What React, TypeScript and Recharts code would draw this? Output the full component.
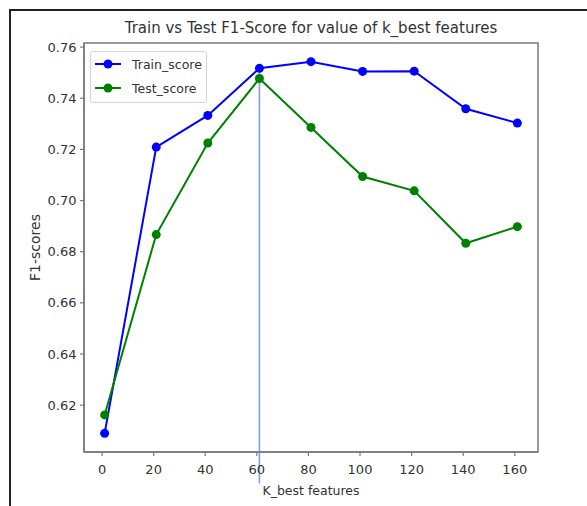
import React from "react";
import { LineChart, Line, XAxis, YAxis, Legend, ReferenceLine, ReferenceArea } from "recharts";

// F1 scores per number of selected features
const kValues = [1, 21, 41, 61, 81, 101, 121, 141, 161];
const trainScores = [0.609, 0.7209, 0.7333, 0.7517, 0.7543, 0.7505, 0.7506, 0.7359, 0.7303];
const testScores = [0.6162, 0.6867, 0.7225, 0.7477, 0.7286, 0.7094, 0.7038, 0.6833, 0.6898];

const xTicks = [0, 20, 40, 60, 80, 100, 120, 140, 160];
const yTicks = [0.62, 0.64, 0.66, 0.68, 0.7, 0.72, 0.74, 0.76];
const bestIndex = 3;

const data = kValues.map((k, i) => ({ k, train: trainScores[i], test: testScores[i] }));

const X_DOMAIN = [-7, 169];
const Y_DOMAIN = [0.6017, 0.7616];

const FONT = "'DejaVu Sans', sans-serif";
const TEXT = "#333";
const SPINE = "#7a7a7a";
const BLUE = "#0000ff";
const GREEN = "#008000";

const legendRows = [
  { name: "Train_score", color: BLUE },
  { name: "Test_score", color: GREEN },
];

function LegendBox() {
  return (
    <div
      style={{
        width: 117,
        height: 52,
        boxSizing: "border-box",
        border: "1px solid #d4d4d4",
        borderRadius: 3,
        background: "rgba(255,255,255,0.85)",
      }}
    >
      <svg width={115} height={50} style={{ display: "block" }}>
        {legendRows.map((r, i) => {
          const y = 12 + i * 24;
          return (
            <g key={r.name}>
              <line x1={4} x2={30} y1={y} y2={y} stroke={r.color} strokeWidth={2} />
              <circle cx={17} cy={y} r={4.5} fill={r.color} />
              <text x={41} y={y} dy="0.36em" fontSize={12.5} fill={TEXT} fontFamily={FONT}>
                {r.name}
              </text>
            </g>
          );
        })}
      </svg>
    </div>
  );
}

export default function App() {
  return (
    <div style={{ position: "absolute", left: 0, top: 0, width: 587, height: 506, background: "#fff", fontFamily: FONT }}>
      <div
        style={{
          position: "absolute",
          left: 9,
          top: 9,
          right: 0,
          bottom: 0,
          borderTop: "2px solid #222",
          borderLeft: "2px solid #222",
        }}
      />
      <div
        style={{
          position: "absolute",
          left: 84,
          width: 454,
          top: 21,
          textAlign: "center",
          fontSize: 15,
          lineHeight: "15px",
          color: TEXT,
          whiteSpace: "nowrap",
        }}
      >
        Train vs Test F1-Score for value of k_best features
      </div>
      <div style={{ position: "absolute", left: 0, top: 0 }}>
        <LineChart
          width={587}
          height={506}
          data={data}
          margin={{ top: 43, right: 49, bottom: 0, left: 0 }}
          style={{ fontFamily: FONT }}
        >
          <XAxis
            dataKey="k"
            type="number"
            domain={X_DOMAIN}
            ticks={xTicks}
            allowDataOverflow
            height={54}
            tickSize={4}
            tickMargin={9}
            axisLine={{ stroke: SPINE, strokeWidth: 1.5 }}
            tickLine={{ stroke: SPINE, strokeWidth: 1.2 }}
            tick={{ fontSize: 13, fill: TEXT }}
            label={{ value: "K_best features", position: "insideBottom", offset: 11, fontSize: 12.5, fill: TEXT }}
          />
          <YAxis
            type="number"
            domain={Y_DOMAIN}
            ticks={yTicks}
            allowDataOverflow
            width={84}
            tickSize={4}
            tickMargin={3.5}
            tickFormatter={(v: number) => v.toFixed(2)}
            axisLine={{ stroke: SPINE, strokeWidth: 1.5 }}
            tickLine={{ stroke: SPINE, strokeWidth: 1.2 }}
            tick={{ fontSize: 13, fill: TEXT }}
            label={{
              value: "F1-scores",
              angle: -90,
              position: "insideLeft",
              offset: 35.5,
              fontSize: 14,
              fill: TEXT,
              style: { textAnchor: "middle" },
            }}
          />
          <ReferenceArea
            x1={X_DOMAIN[0]}
            x2={X_DOMAIN[1]}
            y1={Y_DOMAIN[0]}
            y2={Y_DOMAIN[1]}
            fill="none"
            stroke={SPINE}
            strokeWidth={1.5}
          />
          <ReferenceLine
            segment={[
              { x: kValues[bestIndex], y: trainScores[bestIndex] },
              { x: kValues[bestIndex], y: 0.5894 },
            ]}
            ifOverflow="visible"
            stroke="#7c9fe8"
            strokeWidth={1.6}
          />
          <Line
            dataKey="train"
            name="Train_score"
            stroke={BLUE}
            strokeWidth={2}
            dot={{ r: 4.5, fill: BLUE, stroke: BLUE, strokeWidth: 0 }}
            activeDot={false}
            isAnimationActive={false}
          />
          <Line
            dataKey="test"
            name="Test_score"
            stroke={GREEN}
            strokeWidth={2}
            dot={{ r: 4.5, fill: GREEN, stroke: GREEN, strokeWidth: 0 }}
            activeDot={false}
            isAnimationActive={false}
          />
          <Legend
            layout="vertical"
            align="center"
            verticalAlign="middle"
            content={() => <LegendBox />}
            wrapperStyle={{ left: 90, top: 51, width: "auto", height: "auto" }}
          />
        </LineChart>
      </div>
    </div>
  );
}
